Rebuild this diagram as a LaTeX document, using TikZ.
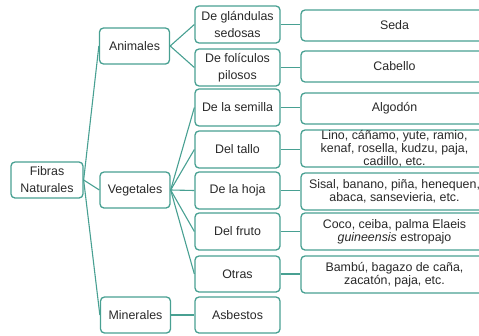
\documentclass[tikz,border=0pt]{standalone}
\usepackage{fontspec}
\setmainfont{Liberation Sans}
\definecolor{teal1}{RGB}{72,160,146}
\definecolor{txt}{RGB}{40,40,40}
\begin{document}
\begin{tikzpicture}[x=1pt,y=-1pt,
  box/.style={draw=teal1,line width=1.3pt,rounded corners=4pt,inner sep=0pt,
    align=center,text=txt,font=\fontsize{12.4}{17}\selectfont},
  c1/.style={box,minimum width=70pt,minimum height=36pt},
  c2/.style={box,minimum width=85pt,minimum height=37pt},
  c3/.style={box,minimum width=187pt,minimum height=37pt,font=\fontsize{12.4}{13}\selectfont},
  c3s/.style={c3,minimum height=31pt},
  link/.style={draw=teal1,line width=1.1pt}]
\useasboundingbox (0,0) rectangle (479,335);
\begin{scope}
\clip (0,0) rectangle (479,335);
\node[box,minimum width=72pt,minimum height=36pt] (fib) at (47,180) {Fibras\\Naturales};
\node[c1] (ani) at (134.5,46) {Animales};
\node[c1] (veg) at (135,190) {Vegetales};
\node[c1] (min) at (135.5,315) {Minerales};
\node[c2] (gla) at (237.5,24.5) {De glándulas\\sedosas};
\node[c2] (fol) at (237.5,67.5) {De folículos\\pilosos};
\node[c2] (sem) at (237.5,107.5) {De la semilla};
\node[c2] (tal) at (237.5,149.5) {Del tallo};
\node[c2] (hoj) at (237.5,190.5) {De la hoja};
\node[c2] (fru) at (237.5,231.5) {Del fruto};
\node[c2,minimum height=36pt] (otr) at (237.5,274) {Otras};
\node[c2,minimum height=36pt] (asb) at (237.5,315) {Asbestos};
\node[c3s] (sed) at (394.5,25.5) {Seda};
\node[c3s] (cab) at (394.5,66.5) {Cabello};
\node[c3s] (alg) at (394.5,108.5) {Algodón};
\node[c3] (lin) at (394.5,148.5) {Lino, cáñamo, yute, ramio,\\kenaf, rosella, kudzu, paja,\\cadillo, etc.};
\node[c3] (sis) at (394.5,191.5) {Sisal, banano, piña, henequen,\\abaca, sansevieria, etc.};
\node[c3] (coc) at (394.5,231.5) {Coco, ceiba, palma Elaeis\\\textit{guineensis} estropajo};
\node[c3] (bam) at (394.5,274.5) {Bambú, bagazo de caña,\\zacatón, paja, etc.};
\end{scope}
\foreach \t in {ani,veg,min} \draw[link] (fib.east) -- (\t.west);
\foreach \t in {gla,fol} \draw[link] (ani.east) -- (\t.west);
\foreach \t in {sem,tal,hoj,fru,otr} \draw[link] (veg.east) -- (\t.west);
\draw[link] (min.east) -- (asb.west);
\foreach \a/\b in {gla/sed,fol/cab,sem/alg,tal/lin,hoj/sis,fru/coc,otr/bam}
  \draw[link] (\a.east) -- (\a.east -| \b.west);
\end{tikzpicture}
\end{document}
